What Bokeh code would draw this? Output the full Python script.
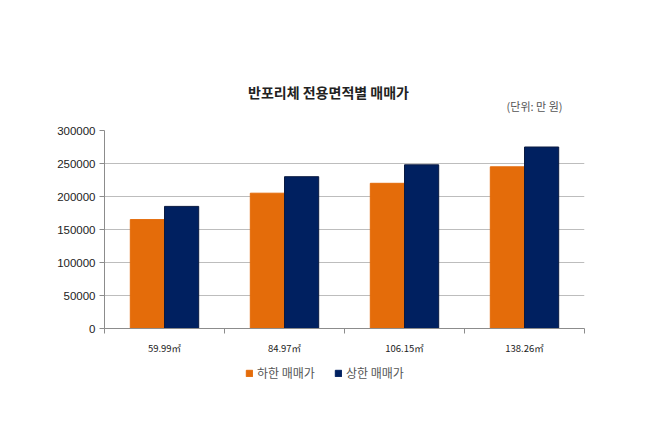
from bokeh.plotting import figure
from bokeh.layouts import column
from bokeh.models import Range1d, FixedTicker, Label, Legend, LegendItem, ColumnDataSource
from bokeh.embed import file_html
from bokeh.resources import INLINE

categories = ["59.99㎡", "84.97㎡", "106.15㎡", "138.26㎡"]
low_price = [165000, 205000, 220000, 245000]
high_price = [185000, 230000, 248000, 275000]
series_names = ["하한 매매가", "상한 매매가"]
y_ticks = [0, 50000, 100000, 150000, 200000, 250000, 300000]
title_text = "반포리체 전용면적별 매매가"
unit_text = "(단위: 만 원)"

ORANGE = "#E46C0A"
NAVY = "#002060"
BAR_W = 0.285
W = 631
LEFT = 104
RIGHT = 47
FRAME_R = W - RIGHT


def blank(fig):
    fig.axis.visible = False
    fig.grid.grid_line_color = None
    fig.outline_line_color = None
    fig.background_fill_color = "white"
    fig.border_fill_color = "white"


# ---- header with title and unit note (x in page pixels) ----
HEAD_H = 120
head = figure(width=W, height=HEAD_H, output_backend="svg", toolbar_location=None,
              x_range=Range1d(LEFT, FRAME_R), y_range=Range1d(HEAD_H, 0),
              min_border_left=LEFT, min_border_right=RIGHT,
              min_border_top=0, min_border_bottom=0)
blank(head)
head.add_layout(Label(x=328, y=91, text=title_text, text_align="center", text_baseline="middle",
                      text_font="Noto Sans CJK KR", text_font_size="14px",
                      text_font_style="bold", text_color="#222222"))
head.add_layout(Label(x=562, y=105, text=unit_text, text_align="right", text_baseline="middle",
                      text_font="Noto Sans CJK KR", text_font_size="11px",
                      text_color="#555555"))

# ---- main chart ----
centers = [i + 0.5 for i in range(len(categories))]
src = ColumnDataSource(dict(
    x_low=[c - BAR_W / 2 for c in centers],
    x_high=[c + BAR_W / 2 for c in centers],
    low=low_price, high=high_price))

p = figure(width=W, height=243, output_backend="svg", toolbar_location=None,
           x_range=Range1d(0, len(categories)), y_range=Range1d(0, 300000),
           min_border_left=LEFT, min_border_right=RIGHT, min_border_top=10, min_border_bottom=35)
p.outline_line_color = None
p.background_fill_color = "white"
p.border_fill_color = "white"

p.vbar(x="x_low", top="low", width=BAR_W, source=src, fill_color=ORANGE, line_color=ORANGE)
p.vbar(x="x_high", top="high", width=BAR_W, source=src, fill_color=NAVY, line_color="#0a1a40")

p.yaxis.ticker = FixedTicker(ticks=y_ticks)
p.yaxis.formatter.use_scientific = False
p.yaxis.major_tick_out = 5
p.yaxis.major_tick_in = 0
p.yaxis.minor_tick_out = 0
p.yaxis.minor_tick_in = 0
p.yaxis.axis_line_color = "#8c8c8c"
p.yaxis.major_tick_line_color = "#8c8c8c"
p.yaxis.major_label_text_font = "Liberation Sans"
p.yaxis.major_label_text_font_size = "11.5px"
p.yaxis.major_label_text_color = "#222222"
p.yaxis.major_label_standoff = 4

p.xaxis.ticker = FixedTicker(ticks=centers, minor_ticks=list(range(len(categories) + 1)))
p.xaxis.major_label_overrides = {c: cat for c, cat in zip(centers, categories)}
p.xaxis.major_tick_out = 0
p.xaxis.major_tick_in = 0
p.xaxis.minor_tick_out = 5
p.xaxis.minor_tick_in = 0
p.xaxis.axis_line_color = "#8c8c8c"
p.xaxis.minor_tick_line_color = "#8c8c8c"
p.xaxis.major_label_text_font = "Noto Sans CJK KR"
p.xaxis.major_label_text_font_size = "9.5px"
p.xaxis.major_label_text_color = "#222222"
p.xaxis.major_label_standoff = 7

p.xgrid.grid_line_color = None
p.ygrid.ticker = FixedTicker(ticks=y_ticks)
p.ygrid.grid_line_color = "#bdbdbd"
p.ygrid.grid_line_width = 1

# ---- legend strip ----
LEG_H = 50
leg = figure(width=W, height=LEG_H, output_backend="svg", toolbar_location=None,
             x_range=Range1d(0, 1), y_range=Range1d(0, 1),
             min_border_left=LEFT, min_border_right=RIGHT,
             min_border_top=0, min_border_bottom=0)
blank(leg)
k_low = leg.vbar(x="x_low", top="low", width=BAR_W, source=src, fill_color=ORANGE, line_color=ORANGE)
k_high = leg.vbar(x="x_high", top="high", width=BAR_W, source=src, fill_color=NAVY, line_color=NAVY)
k_low.visible = False
k_high.visible = False
legend = Legend(items=[LegendItem(label=series_names[0], renderers=[k_low]),
                       LegendItem(label=series_names[1], renderers=[k_high])],
                orientation="horizontal", location=(245 - LEFT, 32),
                glyph_width=8, glyph_height=8, label_standoff=4, spacing=19,
                padding=0, margin=0, border_line_color=None, background_fill_alpha=0,
                inactive_fill_alpha=0,
                label_text_font="Noto Sans CJK KR", label_text_font_size="12px",
                label_text_color="#555555")
leg.add_layout(legend)

layout = column(head, p, leg, spacing=0)
open("out.html", "w").write(file_html(layout, INLINE))
